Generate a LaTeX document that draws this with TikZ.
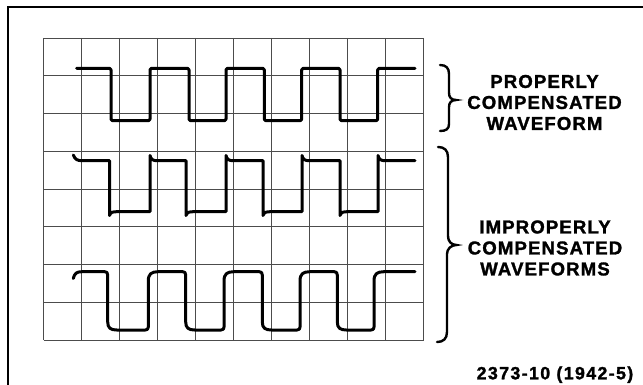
\documentclass[tikz,border=0pt]{standalone}
\usepackage{fontspec}
\setmainfont{Liberation Sans}
\newfontfamily\labelfont[LetterSpace=6,FakeBold=1.5]{Liberation Sans Bold}
\newfontfamily\numfont[LetterSpace=8,FakeBold=1.5]{Liberation Sans Bold}
\begin{document}
\begin{tikzpicture}[x=1pt,y=-1pt,
  frameline/.style={line width=2pt,black},
  gridline/.style={line width=0.7pt,black!70},
  wave/.style={line width=3pt,black,line join=round,line cap=round},
  bracestyle/.style={line width=2.4pt,black,line cap=round},
  lbl/.style={align=center,font=\labelfont\fontsize{18.6}{21}\selectfont,inner sep=0pt},
  numlbl/.style={font=\numfont\fontsize{17.7}{20}\selectfont,inner sep=0pt}]
\useasboundingbox (0,0) rectangle (643,385);
% frame
\draw[frameline] (643,7) -- (8,7) -- (8,385);
% graticule
\foreach \i in {0,...,10} {
  \draw[gridline] ({43.5+38*\i},38) -- ({43.5+38*\i},340);
}
\foreach \j in {0,...,8} {
  \draw[gridline] (43.5,{38+37.75*\j}) -- (423.5,{38+37.75*\j});
}
% properly compensated waveform
\draw[wave,rounded corners=1.5pt] (76.7,68.3) -- (111,68.3) -- (111,120.7) -- (150,120.7) -- (150,68.3)
  -- (189,68.3) -- (189,120.7) -- (226,120.7) -- (226,68.3)
  -- (264.3,68.3) -- (264.3,120.7) -- (301.7,120.7) -- (301.7,68.3)
  -- (340,68.3) -- (340,120.7) -- (377.7,120.7) -- (377.7,68.3) -- (415,68.3);
% overcompensated waveform
\draw[wave] (73.3,155) .. controls (75,159.5) and (77.5,160.7) .. (82,160.7)
  \foreach \f/\r in {109.5/150, 186/226, 263/302, 340/378} {
    -- (\f,160.7) -- (\f,215.5) .. controls ({\f+1},212.3) and ({\f+3},211.7) .. ({\f+7.5},211.7)
    -- (\r,211.7) -- (\r,155.5) .. controls ({\r+1},159.5) and ({\r+3},160.7) .. ({\r+7},160.7)
  } -- (415,160.7);
% undercompensated waveform
\draw[wave] (73.3,278.5) .. controls (74.5,273.5) and (76.5,271.7) .. (82,271.7)
  \foreach \f/\r in {107.7/148.3, 185.7/224, 262.3/300, 337.3/374} {
    -- ({\f-3},271.7) .. controls ({\f-1},271.7) and (\f,272.7) .. (\f,275)
    -- (\f,322) .. controls (\f,328) and ({\f+3},330) .. ({\f+9},330)
    -- ({\r-3},330) .. controls ({\r-1},330) and (\r,329) .. (\r,327)
    -- (\r,281) .. controls (\r,274) and ({\r+3},271.7) .. ({\r+10},271.7)
  } -- (415,271.7);
% braces
\draw[bracestyle] (440,65) .. controls (446,65) and (449,68) .. (449,74) -- (449,93)
  .. controls (449,97) and (451,100) .. (456,100)
  .. controls (451,100) and (449,103) .. (449,107) -- (449,124)
  .. controls (449,129) and (446,131) .. (440,131);
\draw[bracestyle] (438,147) .. controls (444,147) and (448,150) .. (448,157) -- (448,236)
  .. controls (448,241) and (451,245) .. (456.5,245)
  .. controls (451,245) and (447,249) .. (447,254) -- (447,332)
  .. controls (447,339) and (443,342) .. (437,342);
% labels
\node[lbl] (proper) at (544.5,102.5) {PROPERLY\\COMPENSATED\\WAVEFORM};
\node[lbl] (improper) at (545,248) {IMPROPERLY\\COMPENSATED\\WAVEFORMS};
\node[numlbl] (fignum) at (555,374.7) {2373-10 (1942-5)};
\end{tikzpicture}
\end{document}
